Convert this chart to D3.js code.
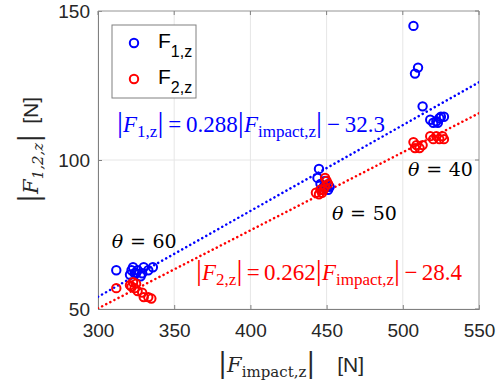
<!DOCTYPE html>
<html><head><meta charset="utf-8">
<script src="https://cdn.jsdelivr.net/npm/d3@7"></script>
<style>body{margin:0;background:#fff}</style>
</head><body>
<svg id="c" width="502" height="387"></svg>
<script>
const xTicks=[300,350,400,450,500,550];
const yTicks=[50,100,150];
const f1x=[312,321,322,323,325,326,329,330,333,336,324,328, 444,445,446,448,449,450,451,452,447, 507,508,510,513,518,520,522,524,525,527,523];
const f1y=[63,61.5,63,64,62,63,62,64,63,64,62,61, 94,97,92,91,93,91,90,91,90, 145,129,131,118,113.5,112.5,113,114,114.5,114.5,112.5];
const f2x=[312,321,322,323,324,326,329,330,333,335,325, 443,445,447,448,449,450,451,449,446, 507,509,511,513,518,520,522,524,526,527,508];
const f2y=[57,58,57.5,59,57,56,55.5,54,54,53.5,58.5, 89,88.5,89,90,94,93,92,91,90, 106,105,104,105,108,107,108,107,108,107,104];
const fit1=[0.288,-32.3], fit2=[0.262,-28.4];
const thetaLabels=[{t:"60",x:309,y:70.5},{t:"50",x:453.5,y:79.9},{t:"40",x:503.4,y:94.6}];

const svg=d3.select("#c");
const L=98,R=479,T=11,B=309;
const x=d3.scaleLinear().domain([300,550]).range([L,R]);
const y=d3.scaleLinear().domain([50,150]).range([B,T]);
const serif="'DejaVu Serif','Liberation Serif',serif";
const serif2="'Liberation Serif','DejaVu Serif',serif";
const sans="'Liberation Sans',Arial,sans-serif";

// grid
svg.append("g").selectAll("line").data(xTicks).join("line")
 .attr("x1",d=>x(d)).attr("x2",d=>x(d)).attr("y1",T).attr("y2",B).attr("stroke","#e6e6e6");
svg.append("g").selectAll("line").data(yTicks).join("line")
 .attr("y1",d=>y(d)).attr("y2",d=>y(d)).attr("x1",L).attr("x2",R).attr("stroke","#e6e6e6");

// axes
const xa=svg.append("g").attr("transform",`translate(0,${B})`).call(d3.axisBottom(x).tickValues(xTicks).tickSize(-4).tickPadding(10));
const ya=svg.append("g").attr("transform",`translate(${L},0)`).call(d3.axisLeft(y).tickValues(yTicks).tickSize(-4).tickPadding(8));
[xa,ya].forEach(a=>{a.selectAll("text").attr("font-family",sans).attr("font-size",19).attr("fill","#262626");
 a.selectAll("line,path").attr("stroke","#808080");});
xa.selectAll("text").attr("dy","0.95em");
// box top/right
svg.append("line").attr("x1",L).attr("x2",R).attr("y1",T).attr("y2",T).attr("stroke","#a0a0a0");
svg.append("line").attr("x1",R).attr("x2",R).attr("y1",T).attr("y2",B).attr("stroke","#a0a0a0");
svg.append("g").selectAll("line").data(yTicks).join("line").attr("x1",R).attr("x2",R-4).attr("y1",d=>y(d)).attr("y2",d=>y(d)).attr("stroke","#808080");
svg.append("g").selectAll("line").data(xTicks).join("line").attr("y1",T).attr("y2",T+4).attr("x1",d=>x(d)).attr("x2",d=>x(d)).attr("stroke","#808080");

svg.append("clipPath").attr("id","cp").append("rect").attr("x",L).attr("y",T).attr("width",R-L).attr("height",B-T);

// fit lines
[[fit1,"#0000ff"],[fit2,"#ff0000"]].forEach(([f,c])=>{
 svg.append("line").attr("clip-path","url(#cp)")
  .attr("x1",x(300)).attr("y1",y(f[0]*300+f[1])).attr("x2",x(550)).attr("y2",y(f[0]*550+f[1]))
  .attr("stroke",c).attr("stroke-width",2.5).attr("stroke-dasharray","0.1,4.5").attr("stroke-linecap","round");
});

// points
svg.append("g").selectAll("circle").data(f1x.map((v,i)=>[v,f1y[i]])).join("circle")
 .attr("cx",d=>x(d[0])).attr("cy",d=>y(d[1])).attr("r",4.2).attr("fill","none").attr("stroke","#0000ff").attr("stroke-width",2);
svg.append("g").selectAll("circle").data(f2x.map((v,i)=>[v,f2y[i]])).join("circle")
 .attr("cx",d=>x(d[0])).attr("cy",d=>y(d[1])).attr("r",4.2).attr("fill","none").attr("stroke","#ff0000").attr("stroke-width",2);

// math text with gaps distributed at marked tspans
function eq(t,parts,fs,w){
 const gaps=[];
 parts.forEach(p=>{
  const s=t.append("tspan").text(p.t);
  if(p.i) s.attr("font-style","italic");
  if(p.sub) s.attr("font-size",Math.round(fs*0.72)).attr("dy",5);
  if(p.big) s.attr("font-size",Math.round(fs*1.3)).attr("dy",p.dy||0);
  if(p.f) s.attr("font-family",p.f);
  if(p.gap) gaps.push(s);
 });
 if(w&&gaps.length){
  const len=t.node().getComputedTextLength();
  const g=Math.max(0,(w-len)/gaps.length);
  gaps.forEach(s=>s.attr("dx",g));
 }
}
function eqText(px,py,c,n,coef,off,w){
 const t=svg.append("text").attr("x",px).attr("y",py).attr("fill",c).attr("font-family",serif2).attr("font-size",23);
 eq(t,[{t:"|",big:1},{t:"F",i:1},{t:n,sub:1},{t:"|",big:1,dy:-5},{t:"=",gap:1},{t:coef,gap:1},{t:"|",big:1},{t:"F",i:1},{t:"impact,z",sub:1},{t:"|",big:1,dy:-5},{t:"−",gap:1},{t:off,gap:1}],23,w);
}
eqText(117,132,"#0000ff","1,z","0.288","32.3",268);
eqText(196,280,"#ff0000","2,z","0.262","28.4",266);

// theta labels
thetaLabels.forEach(d=>{
 const t=svg.append("text").attr("x",x(d.x)).attr("y",y(d.y)).attr("font-family",serif).attr("font-size",19).attr("fill","#000");
 eq(t,[{t:"θ",i:1},{t:"=",gap:1},{t:d.t,gap:1}],19,65);
});

// legend
const lg=svg.append("g");
lg.append("rect").attr("x",112).attr("y",25).attr("width",84).attr("height",73).attr("fill","#fff").attr("stroke","#808080");
[["#0000ff","1,z",43],["#ff0000","2,z",79]].forEach(([c,s,yy])=>{
 lg.append("circle").attr("cx",134).attr("cy",yy).attr("r",4.2).attr("fill","none").attr("stroke",c).attr("stroke-width",2);
 const t=lg.append("text").attr("x",158).attr("y",yy+5).attr("font-family",sans).attr("font-size",21).attr("fill","#000");
 t.append("tspan").text("F");
 t.append("tspan").attr("font-size",16).attr("dy",9).text(s);
});

// axis labels
const xl=svg.append("text").attr("x",218).attr("y",372).attr("font-size",21).attr("fill","#262626").attr("font-family",serif);
eq(xl,[{t:"|",big:1},{t:"F",i:1},{t:"impact,z",sub:1},{t:"|",big:1,dy:-5},{t:"[N]",f:sans,gap:1}],21,146);
const yl=svg.append("text").attr("transform","translate(38,203) rotate(-90)").attr("font-size",21).attr("fill","#262626").attr("font-family",serif);
eq(yl,[{t:"|",big:1},{t:"F",i:1},{t:"1,2,z",sub:1,i:1},{t:"|",big:1,dy:-5},{t:"[N]",f:sans,gap:1}],21,106);
</script>
</body></html>
